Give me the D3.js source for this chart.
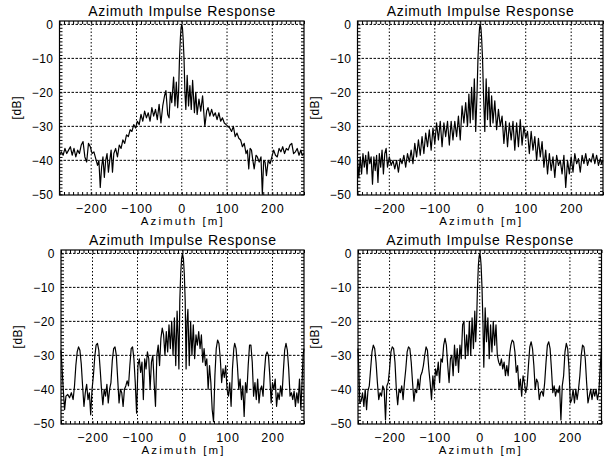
<!DOCTYPE html>
<html>
<head>
<meta charset="utf-8">
<script src="https://cdn.jsdelivr.net/npm/d3@7"></script>
<style>
  body { margin: 0; background: #fff; }
  text { font-family: "Liberation Sans", Arial, sans-serif; fill: #000; }
</style>
</head>
<body>
<svg id="chart" width="609" height="461"></svg>
<script>
// tick labels and titles
const xTicks = [-200, -100, 0, 100, 200];
const yTicks = [-50, -40, -30, -20, -10, 0];
const titleText = "Azimuth Impulse Response";
const xLabelText = "Azimuth [m]";
const yLabelText = "[dB]";

// [azimuth m, dB]
const resp1 = [
  [-270,-38.5],[-266,-37.5],[-262,-38.5],[-258,-36.5],[-254,-38],[-250,-37],[-246,-36],[-242,-38.5],
  [-238,-36.5],[-234,-39],[-230,-37],[-226,-38],[-222,-35.5],[-218,-34.5],[-214,-39],[-210,-40.5],
  [-206,-35],[-202,-36],[-198,-38],[-194,-37.5],[-190,-39.5],[-186,-41.5],[-183,-40],[-180,-48],
  [-177,-42],[-174,-39],[-171,-45],[-168,-40],[-165,-38],[-162,-43.5],[-159,-40],[-156,-37],
  [-153,-43.5],[-150,-38],[-146,-36.5],[-142,-39],[-138,-35.5],[-134,-36.5],[-130,-34],[-126,-35],
  [-122,-32.5],[-118,-33],[-114,-31],[-110,-31.5],[-106,-29.5],[-102,-30.5],[-98,-28.5],[-94,-29.5],
  [-90,-26.5],[-86,-28.5],[-82,-25.5],[-78,-27.5],[-74,-26],[-70,-28.5],[-66,-24.5],[-62,-27],
  [-58,-25],[-54,-28],[-50,-23.5],[-46,-29],[-42,-24],[-38,-21],[-35,-19.5],[-31,-26.5],
  [-28,-27.5],[-25,-20],[-22,-23],[-18,-15.5],[-15,-24],[-12,-17],[-9,-24.5],[-7,-20],
  [-5,-10],[-3,-4],[-1.5,-1],[0,0],[1.5,-1],[3,-4],[5,-10],[7,-20],
  [9,-25],[12,-15],[15,-24],[18,-18],[21,-25],[24,-16.5],[28,-26],[31,-20],
  [34,-26.5],[38,-22],[42,-25.5],[46,-21],[51,-30],[55,-25.5],[58,-24.5],[62,-27],
  [66,-25],[70,-27],[74,-26],[78,-28],[82,-26],[86,-28.5],[90,-27.5],[94,-29],
  [98,-29.5],[102,-30],[106,-30.5],[110,-31.5],[114,-30],[118,-33],[122,-32],[126,-33.5],
  [130,-34],[134,-36],[138,-35],[142,-38],[145,-37],[148,-42.5],[151,-36.5],[154,-37],
  [157,-40],[160,-42.5],[164,-38.5],[167,-39],[171,-40.5],[175,-39],[178,-50],[181,-40],
  [184,-40.5],[187,-44.5],[191,-40],[195,-41],[199,-39],[203,-37],[207,-38.5],[211,-39],
  [215,-36.5],[219,-37.5],[223,-36],[227,-38],[231,-36.5],[235,-37],[239,-35.5],[243,-35],
  [247,-38],[251,-37.5],[255,-36.5],[259,-38.5],[263,-37],[266,-38.5],[270,-38]
];

const resp2 = [
  [-270,-40],[-267,-45],[-264,-39],[-261,-44],[-258,-38],[-255,-42],[-252,-38.5],[-249,-44],
  [-246,-37.5],[-243,-41],[-240,-39],[-237,-47],[-234,-39],[-231,-43],[-228,-38.5],[-225,-46.5],
  [-222,-38],[-219,-42],[-216,-37],[-213,-44],[-210,-38],[-207,-36.5],[-204,-42],[-200,-39],
  [-196,-41.5],[-192,-40],[-188,-42.5],[-184,-40],[-180,-43.5],[-176,-39.5],[-172,-41],[-168,-38.5],
  [-164,-42],[-160,-38],[-156,-40.5],[-152,-37],[-148,-41],[-144,-35],[-140,-39],[-136,-34],
  [-132,-38.5],[-128,-33],[-124,-38],[-120,-32],[-116,-36],[-112,-31],[-108,-37],[-104,-30.5],
  [-100,-35],[-96,-29],[-92,-34],[-88,-28.5],[-84,-36],[-80,-29],[-76,-33],[-72,-28.5],
  [-68,-35.5],[-64,-28.5],[-60,-34],[-56,-28.5],[-52,-33],[-48,-27],[-44,-34],[-40,-24],
  [-36,-29],[-32,-23],[-28,-30],[-25,-20.5],[-22,-29],[-19,-18.5],[-16,-28],[-13,-16],
  [-10,-31.5],[-7,-20],[-5,-10],[-3,-4],[-1.5,-1],[0,0],[1.5,-1],[3,-4],
  [5,-10],[7,-20],[10,-31.5],[13,-16],[16,-28],[19,-18.5],[22,-30],[25,-21],
  [28,-29],[32,-22.5],[36,-31],[40,-25],[44,-30],[48,-27],[52,-35],[56,-28.5],
  [60,-36],[64,-29],[68,-34],[72,-28.5],[76,-37],[80,-29],[84,-36],[88,-28],
  [92,-35.5],[96,-30],[100,-33.5],[104,-31.5],[108,-38],[112,-31.5],[116,-37],[120,-33],
  [124,-40],[128,-33.5],[132,-39],[136,-34.5],[140,-42],[144,-37],[148,-44],[152,-38],
  [156,-43],[160,-39],[164,-45],[168,-38.5],[172,-41.5],[176,-40],[180,-44],[184,-38.5],
  [188,-48],[192,-40],[196,-44],[200,-39],[204,-43.5],[208,-38],[212,-41],[216,-39.5],
  [220,-43.5],[224,-38.5],[228,-41],[232,-38],[236,-41.5],[240,-39.5],[244,-40.5],[248,-38],
  [252,-41],[256,-38.5],[260,-41.5],[264,-39.5],[267,-41],[270,-40]
];

const resp3 = [
  [-270,-28.5],[-268,-33],[-265,-40],[-262,-46],[-259,-42],[-255,-41.5],[-251,-42.5],[-247,-41],
  [-243,-43],[-240,-39],[-237,-33],[-234,-29],[-231,-27.5],[-228,-28.5],[-225,-32.5],[-222,-39],
  [-219,-45],[-216,-41],[-213,-38.5],[-210,-43],[-207,-41],[-204,-47.5],[-201,-40],[-198,-36],
  [-195,-30.5],[-192,-27],[-189,-26.5],[-186,-28.5],[-183,-34],[-180,-40],[-177,-44.5],[-174,-40],
  [-171,-42],[-168,-38.5],[-165,-44],[-162,-40],[-159,-38],[-156,-31.5],[-153,-28],[-150,-27.5],
  [-147,-30],[-144,-37],[-141,-44],[-138,-40],[-135,-41],[-132,-45],[-129,-40],[-126,-39],
  [-123,-37.5],[-120,-39],[-117,-33],[-114,-28],[-111,-27.5],[-108,-31],[-105,-38],[-102,-47],
  [-99,-33],[-96,-31],[-93,-35],[-90,-32],[-87,-43],[-84,-31],[-81,-34],[-78,-29],
  [-75,-31],[-72,-40],[-69,-32],[-66,-30],[-63,-38],[-60,-45],[-57,-30],[-54,-27],
  [-51,-33],[-48,-25],[-45,-22],[-42,-24],[-39,-30],[-36,-23],[-33,-29],[-30,-21],
  [-27,-28],[-24,-20],[-21,-30],[-18,-19],[-15,-33],[-12,-17],[-10,-24],[-8,-34],
  [-6,-14],[-4,-6],[-2,-1.5],[0,0],[2,-1.5],[4,-6],[6,-14],[8,-34],
  [10,-20],[12,-16.5],[15,-33],[18,-20],[21,-30],[24,-21],[27,-31],[30,-24],
  [33,-27],[36,-23],[39,-28],[42,-24],[45,-32],[48,-28],[51,-33],[54,-31],
  [57,-40],[60,-33],[63,-38],[66,-46],[69,-49.5],[72,-36],[75,-28],[78,-25.5],
  [81,-26.5],[84,-31],[87,-38],[90,-34],[93,-36.5],[96,-33],[99,-40],[102,-42],
  [105,-38],[108,-45],[111,-34],[114,-28],[116,-26.5],[119,-28],[122,-33],[125,-40],
  [128,-37],[131,-43],[134,-39],[137,-48],[140,-38],[143,-41],[146,-33],[149,-27],
  [152,-27],[155,-32],[158,-42],[161,-38],[164,-43],[167,-37],[170,-44],[173,-40],
  [176,-39],[179,-42],[182,-35],[185,-30],[188,-29],[191,-30],[194,-36],[197,-44],
  [200,-38],[203,-40],[206,-37],[209,-45],[212,-41],[215,-43],[218,-39],[221,-42],
  [224,-35],[227,-28.5],[230,-26.5],[233,-28.5],[236,-34],[239,-42],[242,-41],[245,-43],
  [248,-40.5],[251,-45],[254,-41],[257,-44],[260,-37],[263,-46],[266,-37],[268,-30],[270,-28]
];

const resp4 = [
  [-270,-28],[-268,-35],[-266,-44],[-263,-43.5],[-260,-41],[-257,-45],[-254,-40],[-251,-46],
  [-248,-40.5],[-245,-39],[-242,-34],[-239,-29],[-236,-27],[-233,-28],[-230,-32],[-227,-38],
  [-224,-43],[-221,-41],[-218,-42],[-215,-39],[-212,-40],[-209,-49],[-206,-39],[-203,-38],
  [-200,-34],[-197,-29],[-194,-27.5],[-191,-28],[-188,-32],[-185,-40],[-182,-44.5],[-179,-40],
  [-176,-41],[-173,-39],[-170,-43],[-167,-38],[-164,-34],[-161,-29],[-158,-27.5],[-155,-28],
  [-152,-32],[-149,-38],[-146,-43.5],[-143,-40],[-140,-41],[-137,-37],[-134,-40],[-131,-36],
  [-128,-35],[-125,-33],[-122,-30],[-119,-27.5],[-116,-28.5],[-113,-34],[-110,-38],[-107,-43],
  [-104,-36],[-101,-40],[-98,-34],[-95,-36],[-92,-32],[-89,-38],[-86,-31],[-83,-32],
  [-80,-27],[-77,-25],[-74,-27],[-71,-33],[-68,-38],[-65,-31],[-62,-30],[-59,-36],
  [-56,-27],[-53,-33],[-50,-28],[-47,-35],[-44,-27],[-41,-31],[-38,-21],[-35,-20],
  [-32,-31],[-29,-24],[-26,-30],[-23,-20],[-20,-30],[-17,-19],[-14,-28],[-11,-17],
  [-9,-26],[-7,-20],[-5,-10],[-3,-3.5],[-1.5,-1],[0,0],[1.5,-1],[3,-3.5],
  [5,-10],[7,-20],[9,-33.5],[12,-16],[15,-26],[18,-19],[21,-31],[24,-21],
  [27,-29],[30,-20],[33,-27],[36,-21],[39,-30],[42,-32],[45,-33],[48,-31],
  [51,-34],[54,-32],[57,-36],[60,-33],[63,-36],[66,-30],[69,-27],[72,-25.5],
  [75,-26],[78,-29],[81,-35],[84,-33],[87,-40],[90,-37],[93,-42],[96,-36],
  [99,-38],[102,-41],[105,-39],[108,-33],[111,-27.5],[114,-26],[117,-28],[120,-33],
  [123,-40],[126,-37],[129,-38],[132,-43],[135,-41],[138,-40.5],[141,-42],[144,-38],
  [147,-32],[150,-27],[153,-26],[156,-28],[159,-34],[162,-41],[165,-39],[168,-42],
  [171,-40],[174,-41],[177,-39],[180,-49],[183,-39],[186,-36],[189,-29],[192,-26.5],
  [195,-28],[198,-34],[201,-44],[204,-43],[207,-40],[210,-44],[213,-40],[216,-43],
  [219,-40],[222,-36],[225,-30],[228,-27],[231,-27.5],[234,-31],[237,-38],[240,-44],
  [243,-42],[246,-40],[249,-43],[252,-40],[255,-42],[258,-40],[261,-43],[264,-41],
  [267,-34],[270,-28]
];

// plot boxes in page pixels
const panels = [
  { data: resp1, left: 59.5, right: 304, top: 21, bottom: 195 },
  { data: resp2, left: 357.5, right: 603, top: 21, bottom: 195 },
  { data: resp3, left: 61, right: 304, top: 250, bottom: 424 },
  { data: resp4, left: 358, right: 601.5, top: 250, bottom: 424 }
];

const svg = d3.select("#chart");

panels.forEach(p => {
  const x = d3.scaleLinear().domain([-270, 270]).range([p.left, p.right]);
  const y = d3.scaleLinear().domain([-50.2, 1]).range([p.bottom, p.top]);
  const g = svg.append("g");

  // grid
  g.selectAll(".vgrid").data(xTicks).enter().append("line")
    .attr("x1", d => x(d)).attr("x2", d => x(d))
    .attr("y1", p.top).attr("y2", p.bottom)
    .attr("stroke", "#000").attr("stroke-width", 1)
    .attr("stroke-dasharray", "1.5,2");
  g.selectAll(".hgrid").data(yTicks.filter(d => d > -50)).enter().append("line")
    .attr("x1", p.left).attr("x2", p.right)
    .attr("y1", d => y(d)).attr("y2", d => y(d))
    .attr("stroke", "#000").attr("stroke-width", 1)
    .attr("stroke-dasharray", "2.5,1.5");

  // minor ticks on all four sides, pointing inward
  const xMinor = d3.range(-270, 271, 10);
  const yMinor = d3.range(-50, 1, 1);
  const tickStyle = sel => {
    sel.select(".domain").remove();
    sel.selectAll("line").attr("stroke", "#000").attr("stroke-width", 1);
  };
  g.append("g").attr("transform", `translate(0,${p.bottom})`)
    .call(d3.axisBottom(x).tickValues(xMinor).tickSize(-3).tickFormat("")).call(tickStyle);
  g.append("g").attr("transform", `translate(0,${p.top})`)
    .call(d3.axisTop(x).tickValues(xMinor).tickSize(-3).tickFormat("")).call(tickStyle);
  g.append("g").attr("transform", `translate(${p.left},0)`)
    .call(d3.axisLeft(y).tickValues(yMinor).tickSize(-3).tickFormat("")).call(tickStyle);
  g.append("g").attr("transform", `translate(${p.right},0)`)
    .call(d3.axisRight(y).tickValues(yMinor).tickSize(-3).tickFormat("")).call(tickStyle);

  // response curve
  g.append("path")
    .datum(p.data)
    .attr("fill", "none")
    .attr("stroke", "#000")
    .attr("stroke-width", 1.2)
    .attr("stroke-linejoin", "round")
    .attr("d", d3.line().x(d => x(d[0])).y(d => y(d[1])));

  // frame
  g.append("rect")
    .attr("x", p.left).attr("y", p.top)
    .attr("width", p.right - p.left).attr("height", p.bottom - p.top)
    .attr("fill", "none").attr("stroke", "#000").attr("stroke-width", 1.2);

  // tick labels
  const xl = g.append("g").attr("transform", `translate(0,${p.bottom})`)
    .call(d3.axisBottom(x).tickValues(xTicks).tickSize(0).tickPadding(9));
  xl.select(".domain").remove();
  xl.selectAll("text").attr("font-size", 12.5).style("letter-spacing", "0.9px")
    .attr("font-family", "Liberation Sans, Arial, sans-serif");

  const yl = g.append("g").attr("transform", `translate(${p.left},0)`)
    .call(d3.axisLeft(y).tickValues(yTicks).tickSize(0).tickPadding(6));
  yl.select(".domain").remove();
  yl.selectAll("text").attr("font-size", 12).style("letter-spacing", "0.5px")
    .attr("font-family", "Liberation Sans, Arial, sans-serif");

  const cx = (p.left + p.right) / 2;
  g.append("text")
    .attr("x", cx).attr("y", p.top - 5.5)
    .attr("text-anchor", "middle").attr("font-size", 14)
    .attr("textLength", 187).attr("lengthAdjust", "spacing")
    .text(titleText);

  g.append("text")
    .attr("x", cx).attr("y", p.bottom + 30)
    .attr("text-anchor", "middle").attr("font-size", 11.5)
    .attr("textLength", 82).attr("lengthAdjust", "spacing")
    .text(xLabelText);

  g.append("text")
    .attr("transform", `translate(${p.left - 39},${(p.top + p.bottom) / 2}) rotate(-90)`)
    .attr("text-anchor", "middle").attr("font-size", 12)
    .attr("textLength", 23).attr("lengthAdjust", "spacing")
    .text(yLabelText);
});
</script>
</body>
</html>
